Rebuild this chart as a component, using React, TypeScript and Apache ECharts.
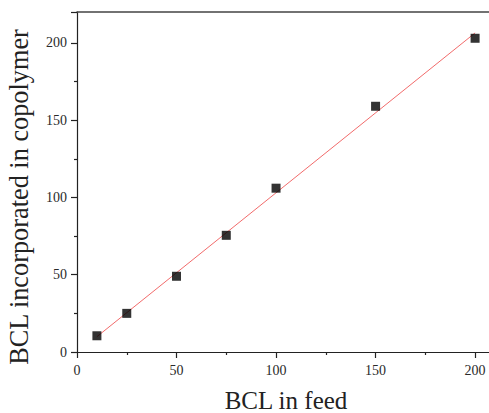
import React, { useEffect, useRef } from "react";
import * as echarts from "echarts";

// BCL in feed vs. BCL incorporated in the copolymer
const feed = [10, 25, 50, 75, 100, 150, 200];
const incorporated = [10.5, 25, 49, 75.5, 106, 159, 203];

const xTicks = { min: 0, max: 210, interval: 50 };
const yTicks = { min: 0, max: 220, interval: 50 };

// least-squares line through the measured points
function linearFit(xs: number[], ys: number[]) {
  const n = xs.length;
  const mx = xs.reduce((a, b) => a + b, 0) / n;
  const my = ys.reduce((a, b) => a + b, 0) / n;
  let sxx = 0;
  let sxy = 0;
  for (let i = 0; i < n; i++) {
    sxx += (xs[i] - mx) * (xs[i] - mx);
    sxy += (xs[i] - mx) * (ys[i] - my);
  }
  const slope = sxy / sxx;
  return { slope, intercept: my - slope * mx };
}

const FONT = "'Liberation Serif', 'Times New Roman', serif";

export default function App() {
  const ref = useRef<HTMLDivElement>(null);

  useEffect(() => {
    if (!ref.current) return;
    const chart = echarts.init(ref.current, undefined, { renderer: "svg" });
    const fit = linearFit(feed, incorporated);
    const x0 = feed[0];
    const x1 = feed[feed.length - 1];
    const fitLine = [
      [x0, fit.slope * x0 + fit.intercept],
      [x1, fit.slope * x1 + fit.intercept],
    ];

    const axisCommon = {
      type: "value" as const,
      splitLine: { show: false },
      axisLine: { show: true, onZero: false, lineStyle: { color: "#222", width: 1.2 } },
      axisTick: { show: true, inside: false, length: 6, lineStyle: { color: "#222", width: 1.2 } },
      minorTick: { show: true, splitNumber: 2, length: 3, lineStyle: { color: "#222", width: 1.2 } },
      axisLabel: { color: "#2a2a2a", fontFamily: FONT, fontSize: 14, margin: 10 },
    };

    const majorOnly = (v: number) => (v % 50 === 0 && v <= 200 ? String(v) : "");

    chart.setOption({
      animation: false,
      backgroundColor: "#fff",
      grid: {
        left: 77,
        top: 12,
        width: 418,
        height: 340,
        outerBoundsMode: "none",
        show: false,
      },
      xAxis: [
        {
          ...axisCommon,
          ...xTicks,
          axisLabel: { ...axisCommon.axisLabel, margin: 11, formatter: majorOnly },
          name: "BCL in feed",
          nameLocation: "middle",
          nameGap: 37,
          nameTextStyle: { color: "#222", fontFamily: FONT, fontSize: 25, lineHeight: 22 },
        },
        {
          // top frame line
          type: "value",
          position: "top",
          ...xTicks,
          splitLine: { show: false },
          axisLine: { show: true, onZero: false, lineStyle: { color: "#444", width: 1.5 } },
          axisTick: { show: false },
          minorTick: { show: false },
          axisLabel: { show: false },
        },
      ],
      yAxis: {
        ...axisCommon,
        ...yTicks,
        axisLabel: { ...axisCommon.axisLabel, formatter: majorOnly },
      },
      graphic: [
        {
          type: "text",
          x: 19.5,
          y: 197,
          rotation: Math.PI / 2,
          style: {
            text: "BCL incorporated in copolymer",
            fill: "#222",
            font: `26.3px ${FONT}`,
            align: "center",
            verticalAlign: "middle",
          },
        },
      ],
      series: [
        {
          type: "line",
          data: fitLine,
          showSymbol: false,
          symbol: "none",
          lineStyle: { color: "#f26b6b", width: 1 },
          z: 2,
        },
        {
          type: "scatter",
          data: feed.map((x, i) => [x, incorporated[i]]),
          symbol: "rect",
          symbolSize: 9,
          itemStyle: { color: "#000" },
          z: 3,
        },
      ],
    });
    return () => chart.dispose();
  }, []);

  return (
    <div
      ref={ref}
      style={{ position: "absolute", left: 0, top: 0, width: 489, height: 413, overflow: "hidden" }}
    />
  );
}
